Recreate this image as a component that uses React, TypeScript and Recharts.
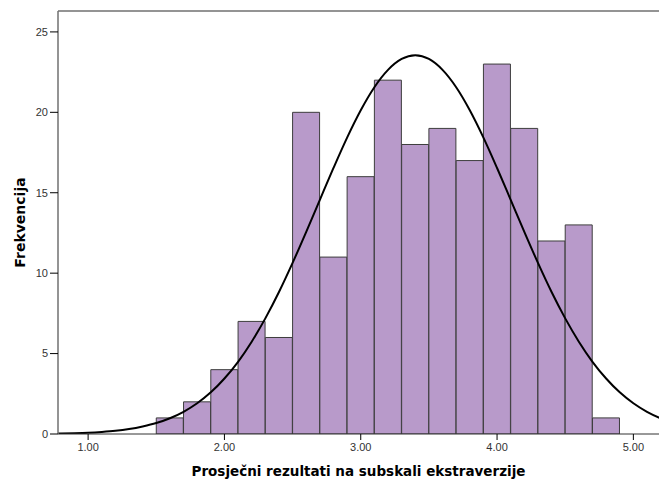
import React from 'react';
import {
  ComposedChart,
  Bar,
  Line,
  XAxis,
  YAxis,
  ReferenceLine,
} from 'recharts';

// Histogram bins (midpoints, bin width 0.2) and frequencies
const binMids = [1.6, 1.8, 2.0, 2.2, 2.4, 2.6, 2.8, 3.0, 3.2, 3.4, 3.6, 3.8, 4.0, 4.2, 4.4, 4.6, 4.8];
const frequencies = [1, 2, 4, 7, 6, 20, 11, 16, 22, 18, 19, 17, 23, 19, 12, 13, 1];

// Normal curve
const curveX = [0.7, 0.8, 0.9, 1.0, 1.1, 1.2, 1.3, 1.4, 1.5, 1.6, 1.7, 1.8, 1.9, 2.0, 2.1, 2.2, 2.3, 2.4, 2.5, 2.6, 2.7, 2.8, 2.9, 3.0, 3.1, 3.2, 3.3, 3.4, 3.5, 3.6, 3.7, 3.8, 3.9, 4.0, 4.1, 4.2, 4.3, 4.4, 4.5, 4.6, 4.7, 4.8, 4.9, 5.0, 5.1, 5.2, 5.3];
const curveY = [0.02, 0.03, 0.05, 0.08, 0.13, 0.2, 0.31, 0.47, 0.68, 0.98, 1.38, 1.91, 2.59, 3.45, 4.49, 5.74, 7.19, 8.83, 10.64, 12.57, 14.56, 16.54, 18.43, 20.13, 21.56, 22.64, 23.32, 23.55, 23.32, 22.64, 21.56, 20.13, 18.43, 16.54, 14.56, 12.57, 10.64, 8.83, 7.19, 5.74, 4.49, 3.45, 2.59, 1.91, 1.38, 0.98, 0.68];

const xTicks = [1, 2, 3, 4, 5];
const yTicks = [0, 5, 10, 15, 20, 25];
const xDomain: [number, number] = [0.779, 5.188];
const yDomain: [number, number] = [0, 26.3];

const xLabel = 'Prosječni rezultati na subskali ekstraverzije';
const yLabel = 'Frekvencija';

const barData = binMids.map((m, i) => ({ mid: m, freq: frequencies[i] }));
const curveData = curveX.map((x, i) => ({ x, y: curveY[i] }));

const tickStyle = { fontFamily: '"Liberation Sans", Arial, sans-serif', fontSize: 11, fill: '#333' };

const XLabelContent = (props: any) => {
  const vb = props.viewBox || {};
  return (
    <text
      x={vb.x + vb.width / 2}
      y={vb.y + 42}
      textAnchor="middle"
      fontFamily='"DejaVu Sans", Verdana, sans-serif'
      fontWeight="bold"
      fontSize={13.5}
      fill="#000"
    >
      {xLabel}
    </text>
  );
};

const YLabelContent = (props: any) => {
  const vb = props.viewBox || {};
  const x = vb.x + 25;
  const y = vb.y + vb.height / 2;
  return (
    <text
      x={x}
      y={y}
      transform={`rotate(-90, ${x}, ${y})`}
      textAnchor="middle"
      fontFamily='"DejaVu Sans", Verdana, sans-serif'
      fontWeight="bold"
      fontSize={14}
      fill="#000"
    >
      {yLabel}
    </text>
  );
};

export default function App() {
  return (
    <div style={{ position: 'absolute', left: 0, top: 0, background: '#fff' }}>
      <ComposedChart
        width={659}
        height={484}
        data={barData}
        margin={{ top: 11, right: 0, bottom: 0, left: 0 }}
        barCategoryGap={0}
        barGap={0}
      >
        <XAxis
          dataKey="mid"
          type="number"
          domain={xDomain}
          allowDataOverflow
          ticks={xTicks}
          tickFormatter={(v: number) => v.toFixed(2)}
          tick={tickStyle}
          tickSize={6}
          tickMargin={3}
          tickLine={{ stroke: '#000' }}
          axisLine={{ stroke: '#333' }}
          height={50}
          label={<XLabelContent />}
        />
        <XAxis
          xAxisId="curve"
          dataKey="x"
          type="number"
          domain={xDomain}
          allowDataOverflow
          hide
        />
        <YAxis
          type="number"
          domain={yDomain}
          allowDataOverflow
          ticks={yTicks}
          tick={tickStyle}
          tickSize={8}
          tickMargin={2}
          tickLine={{ stroke: '#000' }}
          axisLine={{ stroke: '#707070', strokeWidth: 1.5 }}
          width={58}
          label={<YLabelContent />}
        />
        <ReferenceLine y={yDomain[1]} stroke="#707070" strokeWidth={1.5} />
        <Bar
          dataKey="freq"
          fill="#b89aca"
          stroke="#3d3d3d"
          strokeWidth={1}
          isAnimationActive={false}
        />
        <Line
          xAxisId="curve"
          data={curveData}
          dataKey="y"
          type="monotone"
          stroke="#000"
          strokeWidth={2}
          dot={false}
          activeDot={false}
          isAnimationActive={false}
        />
      </ComposedChart>
    </div>
  );
}
